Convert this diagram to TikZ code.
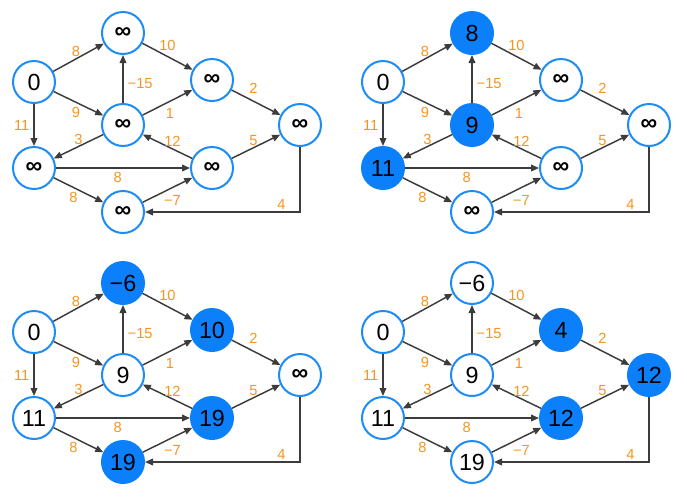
\documentclass[tikz,border=0pt]{standalone}
\usepackage{fontspec}
\setmainfont{Liberation Sans}
\usetikzlibrary{arrows.meta}

\definecolor{ringblue}{RGB}{30,140,245}
\definecolor{fillblue}{RGB}{12,128,250}
\definecolor{wtorange}{RGB}{247,148,30}
\definecolor{arcgray}{RGB}{60,60,60}

\newcommand{\infsym}{\textbf{∞}}

\tikzset{
  vtx/.style={circle, draw=ringblue, line width=1.5pt, fill=white, minimum size=31.5pt,
    inner sep=0pt, font=\fontsize{17.5}{17.5}\selectfont},
  relaxed/.style={fill=fillblue, draw=fillblue},
  idle/.style={},
  wt/.style={text=wtorange, font=\fontsize{11}{11}\selectfont, inner sep=1pt},
  arc/.style={draw=arcgray, line width=1.1pt, -{Triangle[length=6pt,width=5pt]}},
}

% one copy of the graph: #1 name prefix, #2 shift, #3 node/value/style
\newcommand{\drawnet}[3]{%
  \begin{scope}[shift={(#2)}, name prefix=#1-]
    \foreach \n/\x/\y in {a/34/82, b/123/33, c/123/125, d/212/80,
                          e/300/125, f/34/168, g/212/168, h/123/212}
      \coordinate (p\n) at (\x,\y);
    \foreach \n/\v/\s in {#3}
      \node[vtx,\s] (\n) at (p\n) {\v};
    \draw[arc] (a) -- node[wt, pos=0.45, above] {8} (b);
    \draw[arc] (a) -- node[wt, pos=0.45, below=2pt] {9} (c);
    \draw[arc] (a) -- node[wt, midway, left=2pt] {11} (f);
    \draw[arc] (c) -- node[wt, pos=0.4, right=2pt] {−15} (b);
    \draw[arc] (b) -- node[wt, midway, above=3pt] {10} (d);
    \draw[arc] (c) -- node[wt, pos=0.55, below=4pt] {1} (d);
    \draw[arc] (d) -- node[wt, pos=0.45, above=4pt] {2} (e);
    \draw[arc] (c) -- node[wt, midway, above] {3} (f);
    \draw[arc] (g) -- node[wt, pos=0.4, above] {12} (c);
    \draw[arc] (g) -- node[wt, pos=0.45, above] {5} (e);
    \draw[arc] (f) -- node[wt, pos=0.46, below=2pt] {8} (g);
    \draw[arc] (f) -- node[wt, pos=0.4, below=2pt] {8} (h);
    \draw[arc] (h) -- node[wt, pos=0.6, below=4pt] {−7} (g);
    \draw[arc] (e) |- node[wt, pos=0.56, above] {4} (h);
  \end{scope}}

\begin{document}
\begin{tikzpicture}[x=0.75pt, y=-0.75pt]
  \useasboundingbox (0,0) rectangle (687,501);

  \drawnet{s0}{0,0}{a/0/idle, b/\infsym/idle, c/\infsym/idle, d/\infsym/idle,
                    e/\infsym/idle, f/\infsym/idle, g/\infsym/idle, h/\infsym/idle}
  \drawnet{s1}{349,0}{a/0/idle, b/8/relaxed, c/9/relaxed, d/\infsym/idle,
                      e/\infsym/idle, f/11/relaxed, g/\infsym/idle, h/\infsym/idle}
  \drawnet{s2}{0,250}{a/0/idle, b/−6/relaxed, c/9/idle, d/10/relaxed,
                      e/\infsym/idle, f/11/idle, g/19/relaxed, h/19/relaxed}
  \drawnet{s3}{349,250}{a/0/idle, b/−6/idle, c/9/idle, d/4/relaxed,
                        e/12/relaxed, f/11/idle, g/12/relaxed, h/19/idle}
\end{tikzpicture}
\end{document}
